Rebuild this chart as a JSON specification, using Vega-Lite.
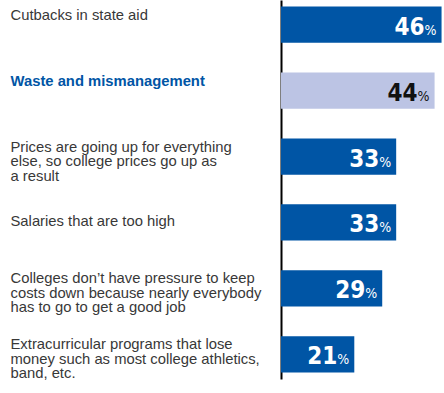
{
  "$schema": "https://vega.github.io/schema/vega-lite/v6.json",
  "width": 163,
  "height": 379,
  "autosize": {"type": "none"},
  "padding": {"left": 281, "top": 0, "right": 0, "bottom": 14},
  "background": "white",
  "config": {"view": {"stroke": null}},
  "data": {
    "values": [
      {"cause": "Cutbacks in state aid", "pct": 46},
      {"cause": "Waste and mismanagement", "pct": 44},
      {"cause": "Prices are going up for everything|else, so college prices go up as|a result", "pct": 33},
      {"cause": "Salaries that are too high", "pct": 33},
      {"cause": "Colleges don’t have pressure to keep|costs down because nearly everybody|has to go to get a good job", "pct": 29},
      {"cause": "Extracurricular programs that lose|money such as most college athletics,|band, etc.", "pct": 21}
    ]
  },
  "encoding": {
    "y": {
      "field": "cause",
      "type": "nominal",
      "sort": null,
      "scale": {"paddingInner": 0.45, "paddingOuter": 0.1},
      "axis": {
        "title": null,
        "domain": true,
        "domainColor": "#000000",
        "domainWidth": 2,
        "ticks": false,
        "labelAlign": "left",
        "labelBaseline": "top",
        "labelOffset": {"condition": {"test": "datum.value === 'Salaries that are too high'", "value": -8}, "value": -17},
        "labelPadding": 271,
        "labelLimit": 280,
        "labelFont": "Liberation Sans",
        "labelFontSize": 14.8,
        "labelLineHeight": 14.5,
        "labelExpr": "split(datum.value, '|')",
        "labelColor": {"condition": {"test": "datum.value === 'Waste and mismanagement'", "value": "#0055a5"}, "value": "#383838"},
        "labelFontWeight": {"condition": {"test": "datum.value === 'Waste and mismanagement'", "value": "bold"}, "value": "normal"}
      }
    },
    "x": {"field": "pct", "type": "quantitative", "scale": {"domain": [0, 46.7], "nice": false, "zero": true}, "axis": null}
  },
  "layer": [
    {
      "mark": {"type": "bar"},
      "encoding": {
        "color": {"condition": {"test": "datum.cause === 'Waste and mismanagement'", "value": "#bcc4e4"}, "value": "#0055a5"}
      }
    },
    {
      "mark": {"type": "text", "align": "right", "baseline": "alphabetic", "dx": -17, "dy": 10, "font": "DejaVu Sans Condensed, Liberation Sans", "fontWeight": "bold", "fontSize": 24},
      "encoding": {
        "text": {"field": "pct"},
        "color": {"condition": {"test": "datum.cause === 'Waste and mismanagement'", "value": "#111111"}, "value": "#ffffff"}
      }
    },
    {
      "mark": {"type": "text", "align": "right", "baseline": "alphabetic", "dx": -5, "dy": 10, "font": "DejaVu Sans Condensed, Liberation Sans", "fontSize": 14},
      "encoding": {
        "text": {"value": "%"},
        "color": {"condition": {"test": "datum.cause === 'Waste and mismanagement'", "value": "#111111"}, "value": "#ffffff"}
      }
    }
  ]
}
